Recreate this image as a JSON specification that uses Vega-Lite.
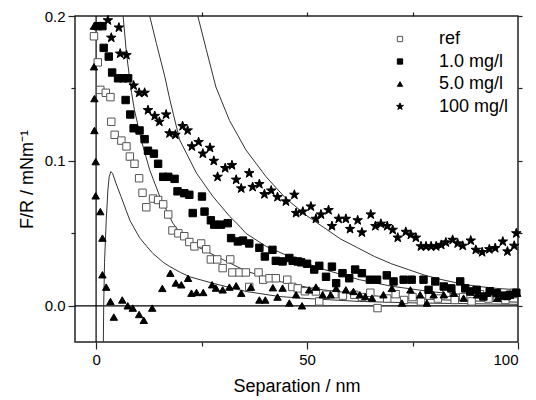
{
  "$schema": "https://vega.github.io/schema/vega-lite/v6.json",
  "width": 443,
  "height": 326,
  "padding": {"left": 75, "top": 16, "right": 18, "bottom": 58},
  "autosize": {"type": "none"},
  "background": "white",
  "datasets": {
    "pts": [
      {"s": "ref", "x": -0.5, "y": 0.186}, {"s": "ref", "x": 0.4, "y": 0.168}, {"s": "ref", "x": 1.0, "y": 0.149},
      {"s": "ref", "x": 2.3, "y": 0.147}, {"s": "ref", "x": 3.4, "y": 0.144}, {"s": "ref", "x": 3.6, "y": 0.127},
      {"s": "ref", "x": 4.4, "y": 0.118}, {"s": "ref", "x": 6.0, "y": 0.114}, {"s": "ref", "x": 7.2, "y": 0.110},
      {"s": "ref", "x": 8.0, "y": 0.103}, {"s": "ref", "x": 9.1, "y": 0.098}, {"s": "ref", "x": 10.2, "y": 0.088},
      {"s": "ref", "x": 11.0, "y": 0.078}, {"s": "ref", "x": 11.9, "y": 0.068}, {"s": "ref", "x": 13.5, "y": 0.074},
      {"s": "ref", "x": 14.7, "y": 0.073}, {"s": "ref", "x": 15.9, "y": 0.070}, {"s": "ref", "x": 17.1, "y": 0.063},
      {"s": "ref", "x": 18.1, "y": 0.052}, {"s": "ref", "x": 19.5, "y": 0.050}, {"s": "ref", "x": 20.9, "y": 0.048},
      {"s": "ref", "x": 22.1, "y": 0.044}, {"s": "ref", "x": 23.3, "y": 0.041}, {"s": "ref", "x": 24.9, "y": 0.043},
      {"s": "ref", "x": 26.1, "y": 0.039}, {"s": "ref", "x": 27.2, "y": 0.032}, {"s": "ref", "x": 28.7, "y": 0.032},
      {"s": "ref", "x": 30.0, "y": 0.026}, {"s": "ref", "x": 31.8, "y": 0.032}, {"s": "ref", "x": 32.3, "y": 0.023},
      {"s": "ref", "x": 34.0, "y": 0.023}, {"s": "ref", "x": 35.5, "y": 0.023}, {"s": "ref", "x": 36.3, "y": 0.013},
      {"s": "ref", "x": 38.5, "y": 0.023}, {"s": "ref", "x": 39.6, "y": 0.018}, {"s": "ref", "x": 41.1, "y": 0.019},
      {"s": "ref", "x": 42.6, "y": 0.019}, {"s": "ref", "x": 45.3, "y": 0.018}, {"s": "ref", "x": 46.5, "y": 0.013},
      {"s": "ref", "x": 47.8, "y": 0.012}, {"s": "ref", "x": 49.5, "y": 0.010}, {"s": "ref", "x": 52.1, "y": 0.0099},
      {"s": "ref", "x": 52.9, "y": 0.003}, {"s": "ref", "x": 54.5, "y": 0.0076}, {"s": "ref", "x": 56.5, "y": 0.008},
      {"s": "ref", "x": 58.5, "y": 0.007}, {"s": "ref", "x": 61.2, "y": 0.0076}, {"s": "ref", "x": 63.0, "y": 0.006},
      {"s": "ref", "x": 65.0, "y": 0.009}, {"s": "ref", "x": 66.7, "y": -0.0016}, {"s": "ref", "x": 69.0, "y": 0.005},
      {"s": "ref", "x": 71.0, "y": 0.008}, {"s": "ref", "x": 73.0, "y": 0.004}, {"s": "ref", "x": 75.0, "y": 0.006},
      {"s": "ref", "x": 77.0, "y": 0.003}, {"s": "ref", "x": 79.0, "y": 0.007}, {"s": "ref", "x": 81.0, "y": 0.005},
      {"s": "ref", "x": 83.0, "y": 0.009}, {"s": "ref", "x": 85.0, "y": 0.004}, {"s": "ref", "x": 87.0, "y": 0.006},
      {"s": "ref", "x": 89.0, "y": 0.003}, {"s": "ref", "x": 91.0, "y": 0.008}, {"s": "ref", "x": 93.0, "y": 0.005},
      {"s": "ref", "x": 95.0, "y": 0.0064}, {"s": "ref", "x": 97.0, "y": 0.004}, {"s": "ref", "x": 99.0, "y": 0.009},

      {"s": "1.0 mg/l", "x": 0.4, "y": 0.193}, {"s": "1.0 mg/l", "x": 1.5, "y": 0.193}, {"s": "1.0 mg/l", "x": 1.8, "y": 0.178},
      {"s": "1.0 mg/l", "x": 3.0, "y": 0.172}, {"s": "1.0 mg/l", "x": 3.8, "y": 0.161}, {"s": "1.0 mg/l", "x": 5.2, "y": 0.157},
      {"s": "1.0 mg/l", "x": 6.4, "y": 0.157}, {"s": "1.0 mg/l", "x": 7.6, "y": 0.157}, {"s": "1.0 mg/l", "x": 7.0, "y": 0.142},
      {"s": "1.0 mg/l", "x": 8.1, "y": 0.132}, {"s": "1.0 mg/l", "x": 8.9, "y": 0.1225}, {"s": "1.0 mg/l", "x": 10.3, "y": 0.121},
      {"s": "1.0 mg/l", "x": 11.5, "y": 0.115}, {"s": "1.0 mg/l", "x": 12.3, "y": 0.107}, {"s": "1.0 mg/l", "x": 13.7, "y": 0.105},
      {"s": "1.0 mg/l", "x": 14.7, "y": 0.098}, {"s": "1.0 mg/l", "x": 15.9, "y": 0.089}, {"s": "1.0 mg/l", "x": 17.1, "y": 0.089},
      {"s": "1.0 mg/l", "x": 18.6, "y": 0.0876}, {"s": "1.0 mg/l", "x": 19.3, "y": 0.079}, {"s": "1.0 mg/l", "x": 20.9, "y": 0.0777},
      {"s": "1.0 mg/l", "x": 22.1, "y": 0.0766}, {"s": "1.0 mg/l", "x": 25.1, "y": 0.0754}, {"s": "1.0 mg/l", "x": 22.9, "y": 0.064},
      {"s": "1.0 mg/l", "x": 25.7, "y": 0.065}, {"s": "1.0 mg/l", "x": 27.2, "y": 0.059}, {"s": "1.0 mg/l", "x": 28.0, "y": 0.056},
      {"s": "1.0 mg/l", "x": 29.6, "y": 0.056}, {"s": "1.0 mg/l", "x": 31.2, "y": 0.057}, {"s": "1.0 mg/l", "x": 32.0, "y": 0.0467},
      {"s": "1.0 mg/l", "x": 33.6, "y": 0.0444}, {"s": "1.0 mg/l", "x": 34.8, "y": 0.045}, {"s": "1.0 mg/l", "x": 36.3, "y": 0.043},
      {"s": "1.0 mg/l", "x": 38.7, "y": 0.040}, {"s": "1.0 mg/l", "x": 40.0, "y": 0.034}, {"s": "1.0 mg/l", "x": 41.8, "y": 0.0386},
      {"s": "1.0 mg/l", "x": 42.6, "y": 0.031}, {"s": "1.0 mg/l", "x": 44.2, "y": 0.0306}, {"s": "1.0 mg/l", "x": 45.8, "y": 0.033},
      {"s": "1.0 mg/l", "x": 46.6, "y": 0.031}, {"s": "1.0 mg/l", "x": 47.8, "y": 0.0306}, {"s": "1.0 mg/l", "x": 48.6, "y": 0.030},
      {"s": "1.0 mg/l", "x": 50.0, "y": 0.029}, {"s": "1.0 mg/l", "x": 51.7, "y": 0.025}, {"s": "1.0 mg/l", "x": 52.9, "y": 0.0276},
      {"s": "1.0 mg/l", "x": 54.5, "y": 0.020}, {"s": "1.0 mg/l", "x": 55.9, "y": 0.027}, {"s": "1.0 mg/l", "x": 56.9, "y": 0.0156},
      {"s": "1.0 mg/l", "x": 58.4, "y": 0.0225}, {"s": "1.0 mg/l", "x": 60.0, "y": 0.019}, {"s": "1.0 mg/l", "x": 61.4, "y": 0.025},
      {"s": "1.0 mg/l", "x": 63.0, "y": 0.0225}, {"s": "1.0 mg/l", "x": 64.9, "y": 0.018}, {"s": "1.0 mg/l", "x": 66.6, "y": 0.018},
      {"s": "1.0 mg/l", "x": 68.9, "y": 0.021}, {"s": "1.0 mg/l", "x": 70.5, "y": 0.0168}, {"s": "1.0 mg/l", "x": 72.9, "y": 0.018},
      {"s": "1.0 mg/l", "x": 74.8, "y": 0.018}, {"s": "1.0 mg/l", "x": 77.6, "y": 0.018}, {"s": "1.0 mg/l", "x": 78.8, "y": 0.011},
      {"s": "1.0 mg/l", "x": 80.4, "y": 0.0168}, {"s": "1.0 mg/l", "x": 82.4, "y": 0.0133}, {"s": "1.0 mg/l", "x": 84.2, "y": 0.012},
      {"s": "1.0 mg/l", "x": 86.3, "y": 0.0168}, {"s": "1.0 mg/l", "x": 87.5, "y": 0.012}, {"s": "1.0 mg/l", "x": 88.7, "y": 0.0099},
      {"s": "1.0 mg/l", "x": 90.2, "y": 0.011}, {"s": "1.0 mg/l", "x": 91.8, "y": 0.0064}, {"s": "1.0 mg/l", "x": 93.3, "y": 0.010},
      {"s": "1.0 mg/l", "x": 95.0, "y": 0.0087}, {"s": "1.0 mg/l", "x": 96.6, "y": 0.007}, {"s": "1.0 mg/l", "x": 98.1, "y": 0.0076},
      {"s": "1.0 mg/l", "x": 99.6, "y": 0.009},

      {"s": "5.0 mg/l", "x": -0.5, "y": 0.193}, {"s": "5.0 mg/l", "x": -0.5, "y": 0.165}, {"s": "5.0 mg/l", "x": -0.4, "y": 0.143},
      {"s": "5.0 mg/l", "x": -0.4, "y": 0.121}, {"s": "5.0 mg/l", "x": -0.1, "y": 0.0995}, {"s": "5.0 mg/l", "x": -0.1, "y": 0.0759},
      {"s": "5.0 mg/l", "x": 1.0, "y": 0.065}, {"s": "5.0 mg/l", "x": 1.5, "y": 0.0467}, {"s": "5.0 mg/l", "x": 1.5, "y": 0.0214},
      {"s": "5.0 mg/l", "x": 2.4, "y": 0.0129}, {"s": "5.0 mg/l", "x": 3.4, "y": 0.003}, {"s": "5.0 mg/l", "x": 4.2, "y": -0.0078},
      {"s": "5.0 mg/l", "x": 6.2, "y": 0.004}, {"s": "5.0 mg/l", "x": 7.5, "y": 0.0}, {"s": "5.0 mg/l", "x": 8.7, "y": -0.0016},
      {"s": "5.0 mg/l", "x": 10.2, "y": -0.006}, {"s": "5.0 mg/l", "x": 11.3, "y": -0.010}, {"s": "5.0 mg/l", "x": 13.3, "y": -0.0016},
      {"s": "5.0 mg/l", "x": 15.7, "y": 0.012}, {"s": "5.0 mg/l", "x": 17.6, "y": 0.0225}, {"s": "5.0 mg/l", "x": 18.9, "y": 0.0157},
      {"s": "5.0 mg/l", "x": 20.2, "y": 0.0145}, {"s": "5.0 mg/l", "x": 21.8, "y": 0.019}, {"s": "5.0 mg/l", "x": 22.6, "y": 0.0087},
      {"s": "5.0 mg/l", "x": 23.8, "y": 0.0092}, {"s": "5.0 mg/l", "x": 25.4, "y": 0.0092}, {"s": "5.0 mg/l", "x": 27.5, "y": 0.0145},
      {"s": "5.0 mg/l", "x": 28.4, "y": 0.0122}, {"s": "5.0 mg/l", "x": 30.0, "y": 0.011}, {"s": "5.0 mg/l", "x": 31.6, "y": 0.0129},
      {"s": "5.0 mg/l", "x": 33.2, "y": 0.0138}, {"s": "5.0 mg/l", "x": 34.4, "y": 0.0087}, {"s": "5.0 mg/l", "x": 36.7, "y": 0.0129},
      {"s": "5.0 mg/l", "x": 38.7, "y": 0.004}, {"s": "5.0 mg/l", "x": 40.1, "y": 0.004}, {"s": "5.0 mg/l", "x": 41.9, "y": 0.0125},
      {"s": "5.0 mg/l", "x": 43.0, "y": 0.006}, {"s": "5.0 mg/l", "x": 44.2, "y": 0.0122}, {"s": "5.0 mg/l", "x": 45.8, "y": 0.0019},
      {"s": "5.0 mg/l", "x": 47.4, "y": 0.0076}, {"s": "5.0 mg/l", "x": 48.8, "y": 0.0}, {"s": "5.0 mg/l", "x": 50.5, "y": 0.011},
      {"s": "5.0 mg/l", "x": 52.1, "y": 0.0129}, {"s": "5.0 mg/l", "x": 53.7, "y": 0.0076}, {"s": "5.0 mg/l", "x": 55.6, "y": 0.0076},
      {"s": "5.0 mg/l", "x": 56.9, "y": 0.012}, {"s": "5.0 mg/l", "x": 59.2, "y": 0.011}, {"s": "5.0 mg/l", "x": 61.0, "y": 0.0099},
      {"s": "5.0 mg/l", "x": 62.5, "y": 0.0076}, {"s": "5.0 mg/l", "x": 63.8, "y": 0.0064}, {"s": "5.0 mg/l", "x": 65.4, "y": 0.0053},
      {"s": "5.0 mg/l", "x": 68.1, "y": 0.0076}, {"s": "5.0 mg/l", "x": 70.1, "y": 0.012}, {"s": "5.0 mg/l", "x": 72.5, "y": 0.0019},
      {"s": "5.0 mg/l", "x": 74.5, "y": 0.011}, {"s": "5.0 mg/l", "x": 76.8, "y": 0.0076}, {"s": "5.0 mg/l", "x": 78.4, "y": 0.0019},
      {"s": "5.0 mg/l", "x": 80.0, "y": 0.0076}, {"s": "5.0 mg/l", "x": 82.4, "y": 0.0076}, {"s": "5.0 mg/l", "x": 84.8, "y": 0.0087},
      {"s": "5.0 mg/l", "x": 87.1, "y": 0.0053}, {"s": "5.0 mg/l", "x": 90.3, "y": 0.0076}, {"s": "5.0 mg/l", "x": 92.7, "y": 0.0087},
      {"s": "5.0 mg/l", "x": 95.1, "y": 0.0053}, {"s": "5.0 mg/l", "x": 97.4, "y": 0.0064}, {"s": "5.0 mg/l", "x": 99.8, "y": 0.0087},

      {"s": "100 mg/l", "x": 2.8, "y": 0.197}, {"s": "100 mg/l", "x": 5.4, "y": 0.192}, {"s": "100 mg/l", "x": 3.6, "y": 0.185},
      {"s": "100 mg/l", "x": 5.7, "y": 0.174}, {"s": "100 mg/l", "x": 7.2, "y": 0.173}, {"s": "100 mg/l", "x": 8.9, "y": 0.152},
      {"s": "100 mg/l", "x": 10.2, "y": 0.147}, {"s": "100 mg/l", "x": 11.5, "y": 0.147}, {"s": "100 mg/l", "x": 12.3, "y": 0.135},
      {"s": "100 mg/l", "x": 13.9, "y": 0.131}, {"s": "100 mg/l", "x": 15.0, "y": 0.127}, {"s": "100 mg/l", "x": 16.6, "y": 0.132},
      {"s": "100 mg/l", "x": 17.4, "y": 0.119}, {"s": "100 mg/l", "x": 18.8, "y": 0.118}, {"s": "100 mg/l", "x": 20.5, "y": 0.124},
      {"s": "100 mg/l", "x": 21.7, "y": 0.121}, {"s": "100 mg/l", "x": 22.7, "y": 0.110}, {"s": "100 mg/l", "x": 24.3, "y": 0.113},
      {"s": "100 mg/l", "x": 25.3, "y": 0.105}, {"s": "100 mg/l", "x": 27.0, "y": 0.109}, {"s": "100 mg/l", "x": 27.9, "y": 0.100},
      {"s": "100 mg/l", "x": 28.8, "y": 0.089}, {"s": "100 mg/l", "x": 30.6, "y": 0.095}, {"s": "100 mg/l", "x": 32.2, "y": 0.097},
      {"s": "100 mg/l", "x": 33.2, "y": 0.087}, {"s": "100 mg/l", "x": 34.4, "y": 0.081}, {"s": "100 mg/l", "x": 36.3, "y": 0.0915},
      {"s": "100 mg/l", "x": 37.1, "y": 0.082}, {"s": "100 mg/l", "x": 38.7, "y": 0.084}, {"s": "100 mg/l", "x": 39.9, "y": 0.077},
      {"s": "100 mg/l", "x": 41.5, "y": 0.0795}, {"s": "100 mg/l", "x": 43.0, "y": 0.075}, {"s": "100 mg/l", "x": 45.0, "y": 0.072},
      {"s": "100 mg/l", "x": 47.0, "y": 0.0766}, {"s": "100 mg/l", "x": 47.4, "y": 0.064}, {"s": "100 mg/l", "x": 49.0, "y": 0.065},
      {"s": "100 mg/l", "x": 50.9, "y": 0.0685}, {"s": "100 mg/l", "x": 52.1, "y": 0.060}, {"s": "100 mg/l", "x": 53.3, "y": 0.063},
      {"s": "100 mg/l", "x": 55.1, "y": 0.066}, {"s": "100 mg/l", "x": 55.9, "y": 0.055}, {"s": "100 mg/l", "x": 57.5, "y": 0.060},
      {"s": "100 mg/l", "x": 59.2, "y": 0.060}, {"s": "100 mg/l", "x": 60.2, "y": 0.053}, {"s": "100 mg/l", "x": 62.0, "y": 0.059},
      {"s": "100 mg/l", "x": 63.0, "y": 0.0506}, {"s": "100 mg/l", "x": 65.1, "y": 0.063}, {"s": "100 mg/l", "x": 66.2, "y": 0.055},
      {"s": "100 mg/l", "x": 67.5, "y": 0.0566}, {"s": "100 mg/l", "x": 69.0, "y": 0.055}, {"s": "100 mg/l", "x": 70.3, "y": 0.0524},
      {"s": "100 mg/l", "x": 71.5, "y": 0.047}, {"s": "100 mg/l", "x": 73.4, "y": 0.051}, {"s": "100 mg/l", "x": 74.6, "y": 0.049},
      {"s": "100 mg/l", "x": 75.8, "y": 0.047}, {"s": "100 mg/l", "x": 77.0, "y": 0.041}, {"s": "100 mg/l", "x": 78.2, "y": 0.041},
      {"s": "100 mg/l", "x": 79.4, "y": 0.041}, {"s": "100 mg/l", "x": 80.6, "y": 0.041}, {"s": "100 mg/l", "x": 81.8, "y": 0.042},
      {"s": "100 mg/l", "x": 82.9, "y": 0.0437}, {"s": "100 mg/l", "x": 84.5, "y": 0.0455}, {"s": "100 mg/l", "x": 85.7, "y": 0.043},
      {"s": "100 mg/l", "x": 86.9, "y": 0.0414}, {"s": "100 mg/l", "x": 88.8, "y": 0.045}, {"s": "100 mg/l", "x": 90.0, "y": 0.0386},
      {"s": "100 mg/l", "x": 91.5, "y": 0.037}, {"s": "100 mg/l", "x": 93.2, "y": 0.039}, {"s": "100 mg/l", "x": 94.6, "y": 0.0398},
      {"s": "100 mg/l", "x": 96.4, "y": 0.0443}, {"s": "100 mg/l", "x": 97.5, "y": 0.0375}, {"s": "100 mg/l", "x": 99.1, "y": 0.0414},
      {"s": "100 mg/l", "x": 99.6, "y": 0.050}
    ],
    "fits": [
      {"c": "A", "x": 6.2, "y": 0.205}, {"c": "A", "x": 6.4, "y": 0.2}, {"c": "A", "x": 7.2, "y": 0.174},
      {"c": "A", "x": 8.4, "y": 0.147}, {"c": "A", "x": 9.1, "y": 0.135}, {"c": "A", "x": 10.7, "y": 0.1145},
      {"c": "A", "x": 12.7, "y": 0.0938}, {"c": "A", "x": 15.1, "y": 0.0754}, {"c": "A", "x": 18.2, "y": 0.057},
      {"c": "A", "x": 20.6, "y": 0.0478}, {"c": "A", "x": 23.8, "y": 0.041}, {"c": "A", "x": 29.3, "y": 0.033},
      {"c": "A", "x": 35.5, "y": 0.024}, {"c": "A", "x": 43.4, "y": 0.0168}, {"c": "A", "x": 51.3, "y": 0.012},
      {"c": "A", "x": 62.4, "y": 0.0076}, {"c": "A", "x": 75, "y": 0.005}, {"c": "A", "x": 87, "y": 0.0035},
      {"c": "A", "x": 100, "y": 0.0025},

      {"c": "B", "x": 12.5, "y": 0.205}, {"c": "B", "x": 12.7, "y": 0.2}, {"c": "B", "x": 14.3, "y": 0.181},
      {"c": "B", "x": 16.3, "y": 0.158}, {"c": "B", "x": 17.5, "y": 0.142}, {"c": "B", "x": 19.8, "y": 0.1145},
      {"c": "B", "x": 23.8, "y": 0.0915}, {"c": "B", "x": 27.7, "y": 0.0754}, {"c": "B", "x": 31.7, "y": 0.0616},
      {"c": "B", "x": 34.1, "y": 0.0547}, {"c": "B", "x": 35.5, "y": 0.050}, {"c": "B", "x": 40.3, "y": 0.041},
      {"c": "B", "x": 45.8, "y": 0.034}, {"c": "B", "x": 52.9, "y": 0.026}, {"c": "B", "x": 62.4, "y": 0.018},
      {"c": "B", "x": 70, "y": 0.0135}, {"c": "B", "x": 80, "y": 0.0095}, {"c": "B", "x": 90, "y": 0.007},
      {"c": "B", "x": 100, "y": 0.0055},

      {"c": "C", "x": 24.0, "y": 0.205}, {"c": "C", "x": 24.1, "y": 0.2}, {"c": "C", "x": 26.1, "y": 0.177},
      {"c": "C", "x": 28.4, "y": 0.151}, {"c": "C", "x": 31.6, "y": 0.128}, {"c": "C", "x": 35.5, "y": 0.1076},
      {"c": "C", "x": 40.3, "y": 0.089}, {"c": "C", "x": 45.0, "y": 0.074}, {"c": "C", "x": 50, "y": 0.062},
      {"c": "C", "x": 54, "y": 0.054}, {"c": "C", "x": 58, "y": 0.046}, {"c": "C", "x": 62, "y": 0.040},
      {"c": "C", "x": 66, "y": 0.034}, {"c": "C", "x": 70, "y": 0.029}, {"c": "C", "x": 74, "y": 0.025},
      {"c": "C", "x": 78, "y": 0.021}, {"c": "C", "x": 82, "y": 0.018}, {"c": "C", "x": 86, "y": 0.0155},
      {"c": "C", "x": 90, "y": 0.0135}, {"c": "C", "x": 95, "y": 0.012}, {"c": "C", "x": 100, "y": 0.011},

      {"c": "D", "x": 1.7, "y": -0.03}, {"c": "D", "x": 1.8, "y": 0.0}, {"c": "D", "x": 2.0, "y": 0.03},
      {"c": "D", "x": 2.4, "y": 0.059}, {"c": "D", "x": 2.8, "y": 0.08}, {"c": "D", "x": 3.1, "y": 0.089},
      {"c": "D", "x": 3.5, "y": 0.0926}, {"c": "D", "x": 3.9, "y": 0.0915}, {"c": "D", "x": 4.7, "y": 0.0846},
      {"c": "D", "x": 5.9, "y": 0.0754}, {"c": "D", "x": 7.1, "y": 0.066}, {"c": "D", "x": 8.0, "y": 0.059},
      {"c": "D", "x": 10.3, "y": 0.047}, {"c": "D", "x": 12.0, "y": 0.041}, {"c": "D", "x": 13.5, "y": 0.036},
      {"c": "D", "x": 15.9, "y": 0.030}, {"c": "D", "x": 17.5, "y": 0.027}, {"c": "D", "x": 20.0, "y": 0.023},
      {"c": "D", "x": 22.2, "y": 0.020}, {"c": "D", "x": 27.6, "y": 0.0156}, {"c": "D", "x": 35.5, "y": 0.0099},
      {"c": "D", "x": 43.4, "y": 0.0064}, {"c": "D", "x": 50, "y": 0.005}, {"c": "D", "x": 62.4, "y": 0.003},
      {"c": "D", "x": 75, "y": 0.002}, {"c": "D", "x": 87, "y": 0.0015}, {"c": "D", "x": 100, "y": 0.001}
    ]
  },
  "layer": [
    {
      "data": {"values": [{"y": 0}]},
      "mark": {"type": "rule", "color": "black", "strokeWidth": 1.2},
      "encoding": {
        "y": {
          "field": "y", "type": "quantitative",
          "scale": {"domain": [-0.025, 0.2], "nice": false, "zero": false},
          "axis": {"orient": "left", "values": [0, 0.1, 0.2], "format": ".1f", "title": "F/R / mNm⁻¹",
                   "tickSize": 7, "labelPadding": 3, "titlePadding": 8}
        }
      }
    },
    {
      "data": {"values": [{"x": 0}]},
      "mark": {"type": "rule", "color": "black", "strokeWidth": 1.2},
      "encoding": {
        "x": {
          "field": "x", "type": "quantitative",
          "scale": {"domain": [-5, 100], "nice": false, "zero": false},
          "axis": {"orient": "bottom", "values": [0, 50, 100], "title": "Separation / nm",
                   "tickSize": 7, "labelPadding": 3, "titlePadding": 10}
        }
      }
    },
    {
      "data": {"name": "fits"},
      "mark": {"type": "line", "color": "#333333", "strokeWidth": 1, "clip": true},
      "encoding": {
        "x": {"field": "x", "type": "quantitative",
              "axis": {"orient": "bottom", "values": [25, 75], "labels": false, "tickSize": 4, "title": null}},
        "y": {"field": "y", "type": "quantitative",
              "axis": {"orient": "left", "values": [0.05, 0.15], "labels": false, "tickSize": 4, "title": null}},
        "detail": {"field": "c", "type": "nominal"}
      }
    },
    {
      "data": {"name": "pts"},
      "mark": {"type": "point", "size": 55, "strokeWidth": 1, "opacity": 1},
      "encoding": {
        "x": {"field": "x", "type": "quantitative",
              "axis": {"orient": "top", "values": [25, 50, 75], "labels": false, "tickSize": 4, "title": null}},
        "y": {"field": "y", "type": "quantitative",
              "axis": {"orient": "right", "values": [0, 0.05, 0.1, 0.15, 0.2], "labels": false, "tickSize": 4, "title": null}},
        "shape": {
          "field": "s", "type": "nominal",
          "scale": {
            "domain": ["ref", "1.0 mg/l", "5.0 mg/l", "100 mg/l"],
            "range": ["square", "square", "triangle-up",
                      "M0,-1.35L0.317,-0.437L1.284,-0.417L0.513,0.167L0.794,1.092L0,0.54L-0.794,1.092L-0.513,0.167L-1.284,-0.417L-0.317,-0.437Z"]
          },
          "legend": {
            "title": null, "orient": "none", "legendX": 316, "legendY": 14,
            "symbolSize": 28, "labelFontSize": 18, "labelOffset": 30, "rowPadding": 4.5,
            "symbolStrokeWidth": 1
          }
        },
        "fill": {
          "field": "s", "type": "nominal",
          "scale": {"domain": ["ref", "1.0 mg/l", "5.0 mg/l", "100 mg/l"], "range": ["white", "black", "black", "black"]}
        },
        "stroke": {
          "field": "s", "type": "nominal",
          "scale": {"domain": ["ref", "1.0 mg/l", "5.0 mg/l", "100 mg/l"], "range": ["#555555", "black", "black", "black"]}
        }
      }
    }
  ],
  "resolve": {"axis": {"x": "independent", "y": "independent"}},
  "config": {
    "font": "Liberation Sans",
    "view": {"stroke": "#222222", "strokeWidth": 1.5},
    "axis": {
      "grid": false, "domain": false, "tickColor": "#222222", "tickWidth": 1.2,
      "labelColor": "black", "titleColor": "black", "labelFontSize": 15, "titleFontSize": 18,
      "titleFontWeight": "normal"
    },
    "legend": {"labelColor": "black", "padding": 0}
  }
}
